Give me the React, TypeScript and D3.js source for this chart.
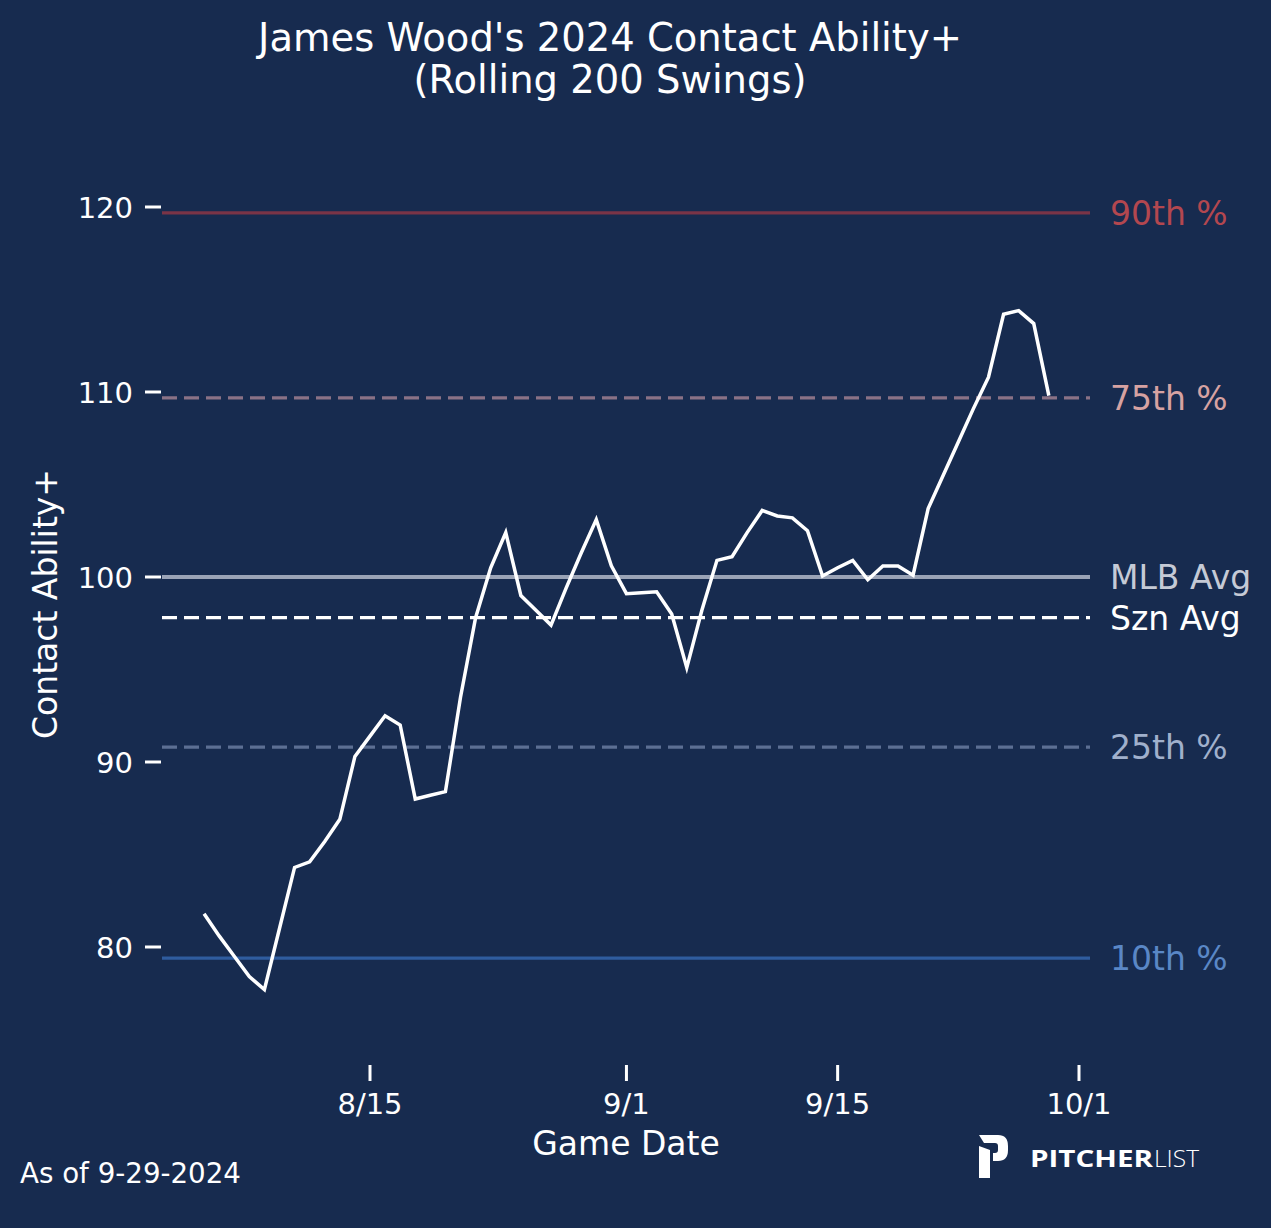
import * as d3 from "d3";

const dates = [
  "2024-08-04", "2024-08-05", "2024-08-06", "2024-08-07", "2024-08-08", "2024-08-09",
  "2024-08-10", "2024-08-11", "2024-08-12", "2024-08-13", "2024-08-14", "2024-08-15",
  "2024-08-16", "2024-08-17", "2024-08-18", "2024-08-19", "2024-08-20", "2024-08-21",
  "2024-08-22", "2024-08-23", "2024-08-24", "2024-08-25", "2024-08-26", "2024-08-27",
  "2024-08-28", "2024-08-29", "2024-08-30", "2024-08-31", "2024-09-01", "2024-09-02",
  "2024-09-03", "2024-09-04", "2024-09-05", "2024-09-06", "2024-09-07", "2024-09-08",
  "2024-09-09", "2024-09-10", "2024-09-11", "2024-09-12", "2024-09-13", "2024-09-14",
  "2024-09-15", "2024-09-16", "2024-09-17", "2024-09-18", "2024-09-19", "2024-09-20",
  "2024-09-21", "2024-09-22", "2024-09-23", "2024-09-24", "2024-09-25", "2024-09-26",
  "2024-09-27", "2024-09-28", "2024-09-29",
];

const contactPlus = [
  81.8, 80.6, 79.5, 78.4, 77.7, 81.0,
  84.3, 84.6, 85.7, 86.9, 90.3, 91.4,
  92.5, 92.0, 88.0, 88.2, 88.4, 93.5,
  97.8, 100.5, 102.4, 99.0, 98.2, 97.4,
  99.4, 101.3, 103.1, 100.6, 99.1, 99.15,
  99.2, 98.0, 95.1, 98.2, 100.9, 101.1,
  102.4, 103.6, 103.3, 103.2, 102.5, 100.05,
  100.5, 100.9, 99.85, 100.6, 100.6, 100.1,
  103.7, 105.5, 107.3, 109.1, 110.8, 114.2,
  114.4, 113.7, 109.8,
];

const refLabels = ["90th %", "75th %", "MLB Avg", "Szn Avg", "25th %", "10th %"];
const refValues = [119.68, 109.68, 100, 97.8, 90.8, 79.4];
const refLineColors = ["#7a3447", "#8a7286", "#9aa3b6", "#ffffff", "#5c6f93", "#2f5c9e"];
const refTextColors = ["#b3474f", "#d6a2a2", "#c5cad6", "#ffffff", "#a0b0cc", "#5a87c6"];
const refDashed = [false, true, false, true, true, false];

const yTicks = [80, 90, 100, 110, 120];
const xTickDates = ["2024-08-15", "2024-09-01", "2024-09-15", "2024-10-01"];
const xTickLabels = ["8/15", "9/1", "9/15", "10/1"];

const parse = d3.timeParse("%Y-%m-%d");
const font = "DejaVu Sans, sans-serif";
const bg = "#172b4f";

export default function App() {
  const width = 1271;
  const height = 1228;
  const plotLeft = 162;
  const plotRight = 1090;

  const x = d3
    .scaleTime()
    .domain([parse("2024-08-15")!, parse("2024-10-01")!])
    .range([370, 1079]);
  const y = d3.scaleLinear().domain([80, 120]).range([947, 207]);

  const points = dates.map((d, i) => ({ date: parse(d)!, value: contactPlus[i] }));
  const line = d3
    .line<{ date: Date; value: number }>()
    .x((p) => x(p.date))
    .y((p) => y(p.value));

  return (
    <svg
      width={width}
      height={height}
      style={{ position: "absolute", left: 0, top: 0, display: "block" }}
      fontFamily={font}
    >
      <rect width={width} height={height} fill={bg} />

      <text x={610} y={51} textAnchor="middle" fill="#fff" fontSize={38.5}>
        James Wood's 2024 Contact Ability+
      </text>
      <text x={610} y={93} textAnchor="middle" fill="#fff" fontSize={38.5}>
        (Rolling 200 Swings)
      </text>

      {refValues.map((v, i) => (
        <g key={refLabels[i]}>
          <line
            x1={plotLeft}
            x2={plotRight}
            y1={y(v)}
            y2={y(v)}
            stroke={refLineColors[i]}
            strokeWidth={i === 2 ? 3.8 : 3.2}
            strokeDasharray={refDashed[i] ? "15 7" : undefined}
          />
          <text x={1110} y={y(v) + 12} fill={refTextColors[i]} fontSize={33}>
            {refLabels[i]}
          </text>
        </g>
      ))}

      <path d={line(points) ?? ""} fill="none" stroke="#fff" strokeWidth={3.5} />

      {yTicks.map((t) => (
        <g key={t}>
          <line x1={145} x2={161} y1={y(t)} y2={y(t)} stroke="#fff" strokeWidth={3} />
          <text x={133} y={y(t) + 10.5} textAnchor="end" fill="#fff" fontSize={29}>
            {t}
          </text>
        </g>
      ))}

      {xTickDates.map((d, i) => {
        const px = x(parse(d)!);
        return (
          <g key={d}>
            <line x1={px} x2={px} y1={1065} y2={1081} stroke="#fff" strokeWidth={3} />
            <text x={px} y={1114} textAnchor="middle" fill="#fff" fontSize={29}>
              {xTickLabels[i]}
            </text>
          </g>
        );
      })}

      <text x={626} y={1155} textAnchor="middle" fill="#fff" fontSize={33}>
        Game Date
      </text>
      <text
        transform="translate(57,604) rotate(-90)"
        textAnchor="middle"
        fill="#fff"
        fontSize={33}
      >
        Contact Ability+
      </text>

      <text x={20} y={1183} fill="#fff" fontSize={27.7}>
        As of 9-29-2024
      </text>

      {/* logo */}
      <g fill="#fff">
        <path d="M979,1135 L998,1135 Q1008,1135 1008,1146 L1008,1150 Q1008,1161 998,1161 L993,1161 L993,1153 L995,1153 Q998,1153 998,1150 L998,1146 Q998,1143 995,1143 L984,1143 Z" />
        <path d="M979,1146 L990,1150 L990,1178 L979,1178 Z" />
      </g>
      <text
        x={1030}
        y={1167}
        fill="#fff"
        fontFamily="Open Sans, sans-serif"
        fontWeight={700}
        fontSize={24}
        textLength={123}
        lengthAdjust="spacingAndGlyphs"
      >
        PITCHER
      </text>
      <text
        x={1154}
        y={1167}
        fill="#fff"
        fontFamily="Open Sans, sans-serif"
        fontWeight={300}
        fontSize={24}
        textLength={45}
        lengthAdjust="spacingAndGlyphs"
      >
        LIST
      </text>
    </svg>
  );
}
